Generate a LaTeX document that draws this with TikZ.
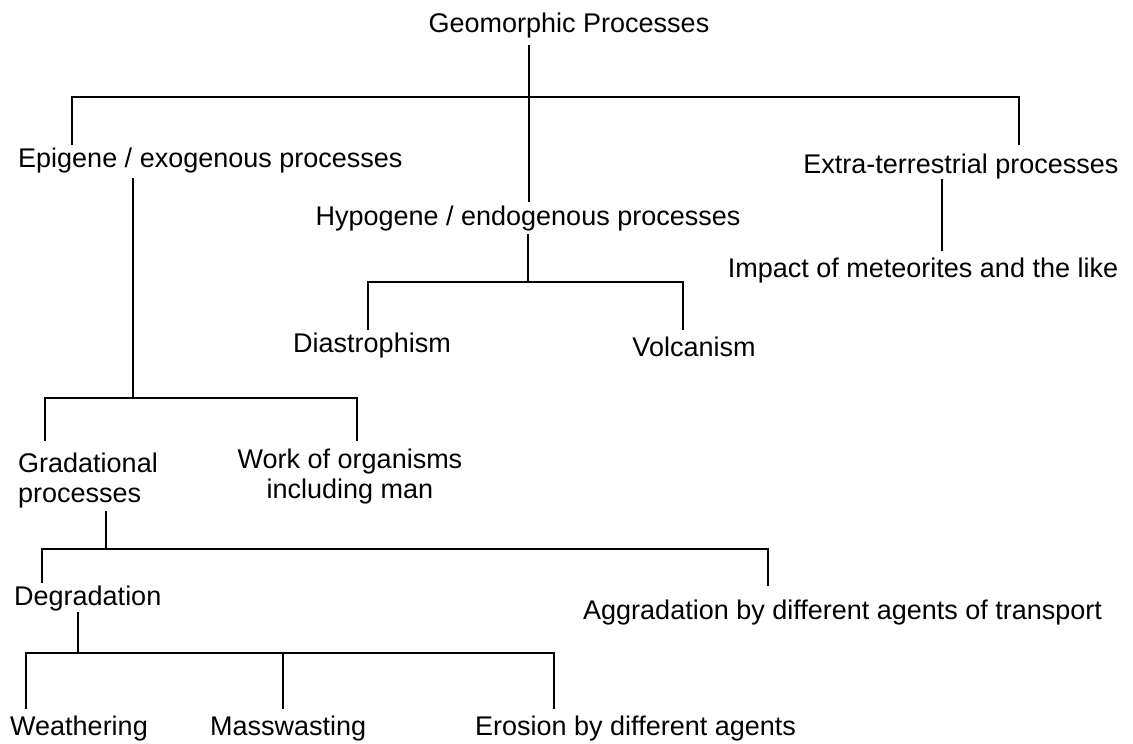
\documentclass[tikz,border=0pt]{standalone}
\usepackage{fontspec}
\setmainfont{Liberation Sans}
\begin{document}
\begin{tikzpicture}[x=1pt,y=-1pt,
  lbl/.style={inner sep=0pt, font=\fontsize{27}{30}\selectfont},
  link/.style={line width=1.7pt, line cap=rect, black}]
\useasboundingbox (0,0) rectangle (1133,744);
% texts
\node[lbl,anchor=base] (geo) at (569,32) {Geomorphic Processes};
\node[lbl,anchor=base west] (epi) at (18,167) {Epigene / exogenous processes};
\node[lbl,anchor=base] (hypo) at (528,225) {Hypogene / endogenous processes};
\node[lbl,anchor=base] (extra) at (961,173) {Extra-terrestrial processes};
\node[lbl,anchor=base] (impact) at (923,277) {Impact of meteorites and the like};
\node[lbl,anchor=base] (dias) at (372,352) {Diastrophism};
\node[lbl,anchor=base] (volc) at (694,356) {Volcanism};
\node[lbl,anchor=north west,align=left] (grad) at (18,453) {Gradational\\processes};
\node[lbl,anchor=north,align=center] (work) at (350,449) {Work of organisms\\including man};
\node[lbl,anchor=base west] (degr) at (14,605) {Degradation};
\node[lbl,anchor=base west] (aggr) at (583,619) {Aggradation by different agents of transport};
\node[lbl,anchor=base west] (weat) at (10,735) {Weathering};
\node[lbl,anchor=base west] (mass) at (210,735) {Masswasting};
\node[lbl,anchor=base west] (eros) at (475,735) {Erosion by different agents};
% junction coordinates
\coordinate (geoS) at (529,46);
\coordinate (topJ) at (529,97);
\coordinate (hypoN) at (529,201);
\coordinate (topL) at (72,97);
\coordinate (topR) at (1019,97);
\coordinate (epiN) at (72,144);
\coordinate (extraN) at (1019,144);
\coordinate (extraS) at (942,180);
\coordinate (impactN) at (942,250);
\coordinate (hypoS) at (528,235);
\coordinate (hypoJ) at (528,282);
\coordinate (hypoL) at (368,282);
\coordinate (hypoR) at (683,282);
\coordinate (diasN) at (368,329);
\coordinate (volcN) at (683,329);
\coordinate (epiS) at (133,179);
\coordinate (epiJ) at (133,398);
\coordinate (epiL) at (45,398);
\coordinate (epiR) at (357,398);
\coordinate (gradN) at (45,440);
\coordinate (workN) at (357,440);
\coordinate (gradS) at (106,512);
\coordinate (gradJ) at (106,549);
\coordinate (gradL) at (42,549);
\coordinate (gradR) at (768,549);
\coordinate (degrN) at (42,582);
\coordinate (aggrN) at (768,585);
\coordinate (degrS) at (78,613);
\coordinate (degrJ) at (78,653);
\coordinate (degrL) at (26,653);
\coordinate (degrM) at (283,653);
\coordinate (degrR) at (554,653);
\coordinate (weatN) at (26,708);
\coordinate (massN) at (283,708);
\coordinate (erosN) at (554,708);
% connectors
\draw[link] (geoS) -- (hypoN);
\draw[link] (epiN) -- (topL) -- (topR) -- (extraN);
\draw[link] (extraS) -- (impactN);
\draw[link] (hypoS) -- (hypoJ);
\draw[link] (diasN) -- (hypoL) -- (hypoR) -- (volcN);
\draw[link] (epiS) -- (epiJ);
\draw[link] (gradN) -- (epiL) -- (epiR) -- (workN);
\draw[link] (gradS) -- (gradJ);
\draw[link] (degrN) -- (gradL) -- (gradR) -- (aggrN);
\draw[link] (degrS) -- (degrJ);
\draw[link] (weatN) -- (degrL) -- (degrR) -- (erosN);
\draw[link] (degrM) -- (massN);
\end{tikzpicture}
\end{document}
